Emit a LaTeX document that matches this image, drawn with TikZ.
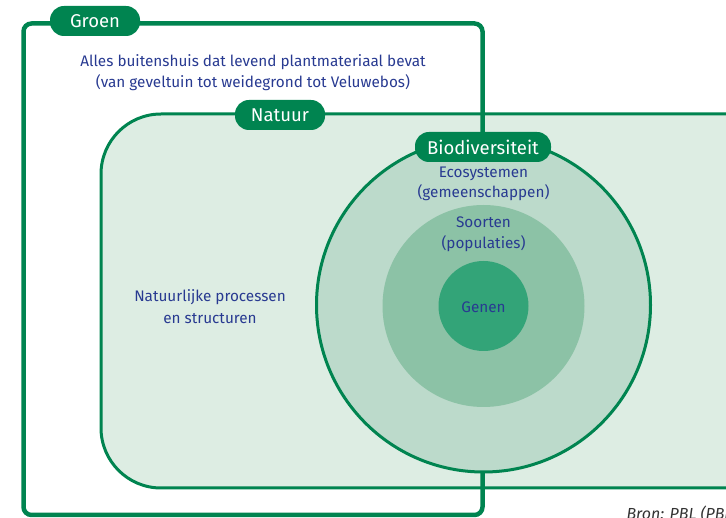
\documentclass[tikz,border=0pt]{standalone}
\usepackage{fontspec}
\setmainfont{Fira Sans}
\usetikzlibrary{positioning}

\definecolor{groen}{RGB}{0,132,80}
\definecolor{natuurfill}{RGB}{221,237,227}
\definecolor{ecofill}{RGB}{188,218,203}
\definecolor{soortfill}{RGB}{140,194,166}
\definecolor{genfill}{RGB}{51,164,120}
\definecolor{tekst}{RGB}{40,58,145}

\begin{document}
\begin{tikzpicture}[
        x=1pt, y=-1pt,
        pill/.style={fill=groen, rounded corners=14pt, minimum height=30pt, inner sep=0pt, text=white, font=\fontsize{18.5}{20}\selectfont},
        blauw/.style={text=tekst, align=center, font=\fontsize{15.3}{21}\selectfont},
        ring/.style={circle, inner sep=0pt},
    ]
        \useasboundingbox (0,0) rectangle (726,518);
        \clip (0,0) rectangle (726,518);
        % natuur box
        \draw[groen, line width=3pt, fill=natuurfill, rounded corners=60pt] (101,114) rectangle (790,488);
        % groen box
        \draw[groen, line width=4.5pt, rounded corners=8pt] (23.5,23.5) rectangle (482.5,515);
        % biodiversiteit rings
        \node[ring, draw=groen, line width=3pt, fill=ecofill, minimum size=334pt] (eco) at (483.5,305) {};
        \node[ring, fill=soortfill, minimum size=202pt] (soort) at (483.5,306) {};
        \node[ring, fill=genfill, minimum size=90pt] (gen) at (483.5,306) {};
        % labels
        \node[pill, minimum width=90pt] (groen) at (95,21) {Groen};
        \node[pill, minimum width=90pt] (natuur) at (280,115) {Natuur};
        \node[pill, minimum width=136pt] (bio) at (483,147) {Biodiversiteit};
        % texts
        \node[blauw] (groentxt) at (253,73) {Alles buitenshuis dat levend plantmateriaal bevat\\(van geveltuin tot weidegrond tot Veluwebos)};
        \node[blauw, font=\fontsize{15.3}{22}\selectfont] (natuurtxt) at (210,307) {Natuurlijke processen\\en structuren};
        \node[blauw, font=\fontsize{15.3}{20}\selectfont] (ecotxt) at (483.5,183.5) {Ecosystemen\\(gemeenschappen)};
        \node[blauw] (soorttxt) at (483.5,234) {Soorten\\(populaties)};
        \node[blauw] (gentxt) at (483.5,307) {Genen};
        \node[anchor=base west, text=black!80, font=\fontsize{16}{18}\selectfont\itshape] (bron) at (623,519) {Bron: PBL (PBL)};
    \end{tikzpicture}
\end{document}
